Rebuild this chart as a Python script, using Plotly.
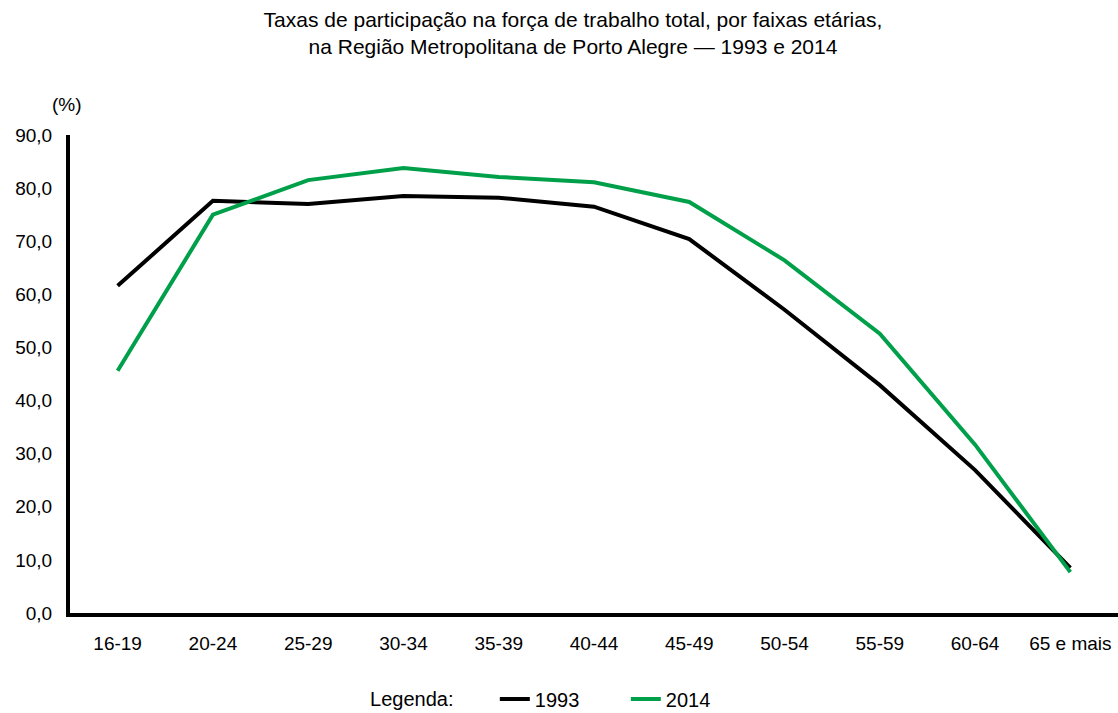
import plotly.graph_objects as go

# Faixas etárias e taxas de participação (%)
faixas = ["16-19", "20-24", "25-29", "30-34", "35-39", "40-44",
          "45-49", "50-54", "55-59", "60-64", "65 e mais"]
taxa_1993 = [61.6, 77.6, 77.0, 78.5, 78.2, 76.5, 70.4, 57.1, 42.9, 26.9, 8.5]
taxa_2014 = [45.6, 75.0, 81.5, 83.8, 82.1, 81.1, 77.4, 66.4, 52.6, 31.7, 7.7]
y_ticks = [0, 10, 20, 30, 40, 50, 60, 70, 80, 90]

FONT = "Liberation Sans, Arial, sans-serif"

fig = go.Figure()
fig.add_trace(go.Scatter(x=faixas, y=taxa_1993, name="1993", mode="lines",
                         line=dict(color="#000000", width=4)))
fig.add_trace(go.Scatter(x=faixas, y=taxa_2014, name="2014", mode="lines",
                         line=dict(color="#00A04A", width=4)))

fig.update_layout(
    width=1118, height=713,
    paper_bgcolor="white", plot_bgcolor="white",
    margin=dict(l=70, r=0, t=135, b=100, autoexpand=False),
    separators=",.",
    font=dict(family=FONT, size=19, color="#000000"),
    title=dict(
        text="Taxas de participação na força de trabalho total, por faixas etárias,<br>"
             "na Região Metropolitana de Porto Alegre — 1993 e 2014",
        xref="container", x=0.5125, xanchor="center",
        yref="container", y=0.962, yanchor="middle",
        font=dict(family=FONT, size=21, color="#000000"),
    ),
    xaxis=dict(
        type="category", range=[-0.5, 10.5],
        showgrid=False, zeroline=False,
        showline=True, linecolor="#000000", linewidth=4,
        ticks="", ticklabelstandoff=10,
        tickfont=dict(family=FONT, size=19, color="#000000"),
    ),
    yaxis=dict(
        range=[0, 90], tickvals=y_ticks, tickformat=".1f",
        showgrid=False, zeroline=False,
        showline=True, linecolor="#000000", linewidth=4,
        ticks="", ticklabelstandoff=10,
        tickfont=dict(family=FONT, size=19, color="#000000"),
    ),
    legend=dict(
        orientation="h", x=0.2844, xanchor="left",
        y=-0.18, yanchor="middle",
        title=dict(text="Legenda:      ", side="left",
                   font=dict(family=FONT, size=20, color="#000000")),
        font=dict(family=FONT, size=20, color="#000000"),
        itemwidth=30, entrywidth=86, entrywidthmode="pixels",
        tracegroupgap=0,
    ),
    showlegend=True,
)

fig.add_annotation(text="(%)", xref="paper", yref="paper",
                   x=-0.003, y=1.063, xanchor="center", yanchor="middle",
                   showarrow=False, font=dict(family=FONT, size=19, color="#000000"))

fig.write_html("out.html")
